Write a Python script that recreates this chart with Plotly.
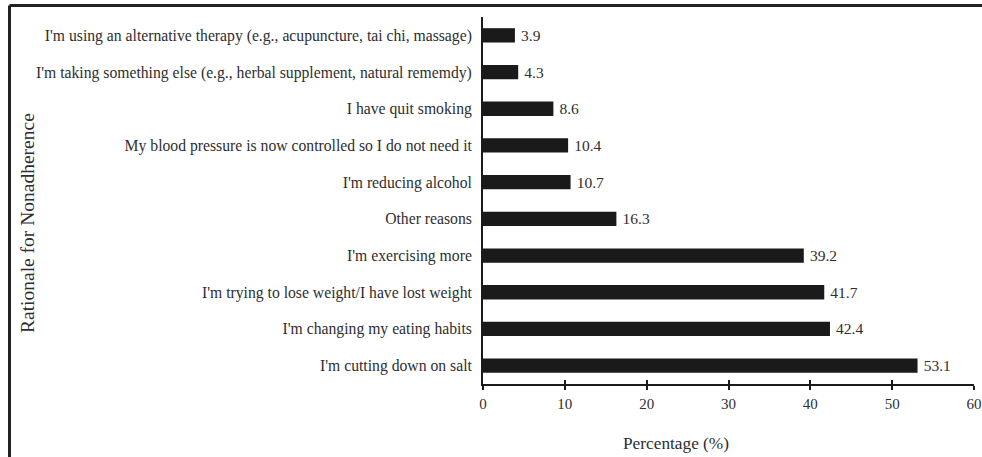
import plotly.graph_objects as go

categories = [
    "I'm using an alternative therapy (e.g., acupuncture, tai chi, massage)",
    "I'm taking something else (e.g., herbal supplement, natural rememdy)",
    "I have quit smoking",
    "My blood pressure is now controlled so I do not need it",
    "I'm reducing alcohol",
    "Other reasons",
    "I'm exercising more",
    "I'm trying to lose weight/I have lost weight",
    "I'm changing my eating habits",
    "I'm cutting down on salt",
]
values = [3.9, 4.3, 8.6, 10.4, 10.7, 16.3, 39.2, 41.7, 42.4, 53.1]
x_ticks = [0, 10, 20, 30, 40, 50, 60]

FONT = "Liberation Serif, Times New Roman, serif"
TXT = "#2e2e2e"

fig = go.Figure()
fig.add_trace(go.Bar(
    x=values, y=categories, orientation="h",
    marker=dict(color="#1a1a1a", line=dict(width=0)),
    width=0.39,
    texttemplate="\u2009%{x:.1f}", textposition="outside",
    textfont=dict(family=FONT, size=15.5, color=TXT),
    constraintext="none",
    cliponaxis=False, showlegend=False,
))
# overlay trace for inside ticks on the x axis
fig.add_trace(go.Scatter(x=[0], y=[categories[0]], xaxis="x2", mode="markers",
                         marker=dict(opacity=0), showlegend=False, hoverinfo="skip"))

W, H = 982, 457
L, R, T, B = 483, 8, 17, 73
pw, ph = W - L - R, H - T - B

fig.update_layout(
    width=W, height=H, autosize=False,
    margin=dict(l=L, r=R, t=T, b=B, pad=0, autoexpand=False),
    paper_bgcolor="white", plot_bgcolor="white",
    font=dict(family=FONT, size=15.5, color=TXT),
    xaxis=dict(range=[0, 60], tickvals=x_ticks, ticks="outside", ticklen=4, tickwidth=2,
               tickcolor="#1a1a1a", showline=True, linecolor="#1a1a1a", linewidth=2,
               showgrid=False, zeroline=False, tickfont=dict(size=15, color=TXT),
               ticklabelstandoff=1, automargin=False),
    xaxis2=dict(range=[0, 60], tickvals=x_ticks, ticks="inside", ticklen=4, tickwidth=2,
                tickcolor="#1a1a1a", overlaying="x", side="bottom", showticklabels=False,
                showgrid=False, zeroline=False, showline=False),
    yaxis=dict(autorange=False, range=[9.5, -0.5], categoryorder="array", categoryarray=categories,
               showline=True, linecolor="#1a1a1a", linewidth=2, ticks="", showgrid=False,
               zeroline=False, ticklabelstandoff=6, tickfont=dict(size=15.7, color=TXT),
               automargin=False),
)

# axis titles placed as annotations (positions in the reference are off-centre)
fig.add_annotation(text="Percentage (%)", xref="paper", yref="paper",
                   x=(676 - L) / pw, y=-(443 - (H - B)) / ph, xanchor="center", yanchor="middle",
                   showarrow=False, font=dict(family=FONT, size=17.3, color=TXT))
fig.add_annotation(text="Rationale for Nonadherence", xref="paper", yref="paper",
                   x=(27 - L) / pw, y=((H - B) - 223) / ph, xanchor="center", yanchor="middle",
                   textangle=-90, showarrow=False, font=dict(family=FONT, size=19.5, color=TXT))

# outer frame (top and left visible)
x_left = (9.5 - L) / pw
y_top = (H - B - 5.5) / ph
fig.add_shape(type="line", xref="paper", yref="paper", x0=x_left, x1=(W + 10 - L) / pw,
              y0=y_top, y1=y_top, line=dict(color="#222", width=3))
fig.add_shape(type="line", xref="paper", yref="paper", x0=x_left, x1=x_left,
              y0=y_top, y1=-(B + 10) / ph, line=dict(color="#222", width=3))

fig.write_html("out.html", config={"displayModeBar": False, "responsive": False},
               post_script="document.body.style.margin='0';document.body.style.overflow='hidden';")
